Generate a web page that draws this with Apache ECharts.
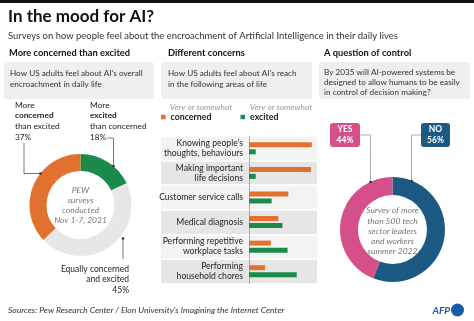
<!DOCTYPE html>
<html>
<head>
<meta charset="utf-8">
<script src="https://cdn.jsdelivr.net/npm/echarts@6/dist/echarts.min.js"></script>
<style>
html,body{margin:0;padding:0;background:#fff;}
#c{width:474px;height:321px;}
</style>
</head>
<body>
<div id="c"></div>
<script>
// ---- data ----
const areaCategories = ["Knowing people's\nthoughts, behaviours", "Making important\nlife decisions", "Customer service calls", "Medical diagnosis", "Performing repetitive\nworkplace tasks", "Performing\nhousehold chores"];
const concernedValues = [75, 74, 47, 35, 26, 19];
const excitedValues = [8, 8, 27, 40, 46, 57];
const overallNames = ["More excited than concerned", "Equally concerned and excited", "More concerned than excited"];
const overallValues = [18, 45, 37];
const controlNames = ["NO", "YES"];
const controlValues = [56, 44];

const FONT = 'Lato, "Noto Sans", sans-serif';
const C_OR = '#e2702f', C_GR = '#1b8a4a', C_GREY = '#e7e7e7', C_PINK = '#d5508a', C_NAVY = '#1c5a84';

function t(x, y, text, o) {
  o = o || {};
  return { type: 'text', z: 10, style: {
    x: x, y: y, text: text, fill: o.fill || '#222',
    fontSize: o.size || 9, fontWeight: o.weight || 'normal', fontStyle: o.style || 'normal',
    fontFamily: FONT, align: o.align || 'left', verticalAlign: 'middle', lineHeight: o.lh || 10
  }};
}
function rect(x, y, w, h, fill, r) {
  return { type: 'rect', z: 1, shape: { x: x, y: y, width: w, height: h, r: r || 0 }, style: { fill: fill } };
}
function line(points, color) {
  return { type: 'polyline', z: 5, shape: { points: points }, style: { stroke: color || '#555', lineWidth: 0.8, fill: null } };
}
function dot(x, y) {
  return { type: 'circle', z: 6, shape: { cx: x, cy: y, r: 1.3 }, style: { fill: '#333' } };
}

const BOX = 8.2;
const graphics = [
  rect(0, 0, 474, 3, '#111'),
  t(8, 17, 'In the mood for AI?', { size: 17, weight: 'bold', fill: '#111' }),
  t(8, 35.5, 'Surveys on how people feel about the encroachment of Artificial Intelligence in their daily lives', { size: 9.45, fill: '#333' }),
  t(9, 52.5, 'More concerned than excited', { size: 9.3, weight: 'bold', fill: '#111' }),
  t(168, 52.5, 'Different concerns', { size: 9.3, weight: 'bold', fill: '#111' }),
  t(324, 52.5, 'A question of control', { size: 9.3, weight: 'bold', fill: '#111' }),
  rect(4, 62, 150, 37, '#efefef', 3),
  rect(161, 62, 151, 37, '#efefef', 3),
  rect(319, 62, 151, 37, '#efefef', 3),
  t(10, 73.5, "How US adults feel about AI's overall", { size: BOX, fill: '#333' }),
  t(10, 84, 'encroachment in daily life', { size: BOX, fill: '#333' }),
  t(168, 73.5, "How US adults feel about AI's reach", { size: BOX, fill: '#333' }),
  t(168, 84, 'in the following areas of life', { size: BOX, fill: '#333' }),
  t(324, 72, 'By 2035 will AI-powered systems be', { size: BOX, fill: '#333' }),
  t(324, 82.3, 'designed to allow humans to be easily', { size: BOX, fill: '#333' }),
  t(324, 92.5, 'in control of decision making?', { size: BOX, fill: '#333' }),
  // left donut labels
  t(15, 105.5, 'More', { size: 8.3 }),
  t(15, 115.5, 'concerned', { size: 8.3, weight: 'bold' }),
  t(15, 126, 'than excited', { size: 8.3 }),
  t(15, 137.5, overallValues[2] + '%', { size: 8.3 }),
  t(90, 105.5, 'More', { size: 8.3 }),
  t(90, 115.5, 'excited', { size: 8.3, weight: 'bold' }),
  t(90, 126, 'than concerned', { size: 8.3 }),
  t(90, 137.5, overallValues[0] + '%', { size: 8.3 }),
  t(129, 269, 'Equally concerned', { size: 8.5, align: 'right' }),
  t(129, 279.5, 'and excited', { size: 8.5, align: 'right' }),
  t(129, 290, overallValues[1] + '%', { size: 8.5, align: 'right' }),
  line([[24, 143], [24, 173.5], [40.5, 173.5]]),
  dot(40.5, 173.5),
  line([[107, 138], [113.5, 138], [113.5, 166]]),
  dot(113.5, 166),
  line([[123, 238.5], [123, 259]]),
  dot(123, 238.5),
  t(80.5, 190, 'PEW', { size: 8.5, style: 'italic', fill: '#777', align: 'center' }),
  t(80.5, 200.3, 'surveys', { size: 8.5, style: 'italic', fill: '#777', align: 'center' }),
  t(80.5, 210.6, 'conducted', { size: 8.5, style: 'italic', fill: '#777', align: 'center' }),
  t(80.5, 220.6, 'Nov 1-7, 2021', { size: 8.5, style: 'italic', fill: '#777', align: 'center' }),
  // legend captions
  t(170, 107.5, 'Very or somewhat', { size: 8.3, style: 'italic', fill: '#999' }),
  t(250, 107.5, 'Very or somewhat', { size: 8.3, style: 'italic', fill: '#999' }),
  // right donut labels
  rect(330, 123, 30, 24, C_PINK, 3),
  rect(421, 123, 29, 24, C_NAVY, 3),
  t(345, 129.5, controlNames[1], { size: 8.5, weight: 'bold', fill: '#fff', align: 'center' }),
  t(345, 140, controlValues[1] + '%', { size: 8.5, weight: 'bold', fill: '#fff', align: 'center' }),
  t(435.5, 129.5, controlNames[0], { size: 8.5, weight: 'bold', fill: '#fff', align: 'center' }),
  t(435.5, 140, controlValues[0] + '%', { size: 8.5, weight: 'bold', fill: '#fff', align: 'center' }),
  line([[360, 135], [370.5, 135], [370.5, 182]], '#999'),
  dot(370.5, 182),
  line([[421, 135], [411.5, 135], [411.5, 181]], '#999'),
  dot(411.5, 181),
  t(392.5, 210.5, 'Survey of more', { size: 8.5, style: 'italic', fill: '#777', align: 'center' }),
  t(392.5, 220.8, 'than 500 tech', { size: 8.5, style: 'italic', fill: '#777', align: 'center' }),
  t(392.5, 231, 'sector leaders', { size: 8.5, style: 'italic', fill: '#777', align: 'center' }),
  t(392.5, 241.2, 'and workers', { size: 8.5, style: 'italic', fill: '#777', align: 'center' }),
  t(392.5, 251.4, 'summer 2022', { size: 8.5, style: 'italic', fill: '#777', align: 'center' }),
  // footer
  t(8, 310, "Sources: Pew Research Center / Elon University's Imagining the Internet Center", { size: 8.5, style: 'italic', fill: '#333' }),
  t(450, 310.5, 'AFP', { size: 10, weight: 'bold', style: 'italic', fill: '#1a5ba8', align: 'right' }),
  { type: 'circle', z: 6, shape: { cx: 457.5, cy: 310, r: 6.5 }, style: { fill: '#1a5ba8' } }
];

const chart = echarts.init(document.getElementById('c'), null, { renderer: 'canvas' });
chart.setOption({
  animation: false,
  backgroundColor: '#fff',
  textStyle: { fontFamily: FONT },
  graphic: graphics,
  legend: [
    { left: 161, top: 112.5, itemWidth: 4.5, itemHeight: 4.5, itemGap: 0, icon: 'rect', data: ['concerned'], padding: 0,
      textStyle: { fontSize: 8.8, fontWeight: 'bold', color: '#222', fontFamily: FONT } },
    { left: 240.5, top: 112.5, itemWidth: 4.5, itemHeight: 4.5, itemGap: 0, icon: 'rect', data: ['excited'], padding: 0,
      textStyle: { fontSize: 8.8, fontWeight: 'bold', color: '#222', fontFamily: FONT } }
  ],
  grid: [
    { left: 161, top: 136, width: 156, height: 147.5, containLabel: false },
    { left: 249, top: 136, width: 67, height: 147.5, containLabel: false }
  ],
  xAxis: [
    { gridIndex: 0, type: 'value', min: 0, max: 1, show: false },
    { gridIndex: 1, type: 'value', min: 0, max: 80, show: false }
  ],
  yAxis: [
    { gridIndex: 0, type: 'category', data: areaCategories, inverse: true, z: 0,
      axisLine: { show: false }, axisTick: { show: false }, axisLabel: { show: false },
      splitLine: { show: true, lineStyle: { color: '#fff', width: 1.5 } },
      splitArea: { show: true, areaStyle: { color: ['#f3f3f3', '#e6e6e6'] } } },
    { gridIndex: 1, type: 'category', data: areaCategories, inverse: true, z: 3,
      axisLine: { show: true, lineStyle: { color: '#999', width: 0.8 } }, axisTick: { show: false },
      axisLabel: { margin: 6, fontSize: 8.6, lineHeight: 10, color: '#222', fontFamily: FONT } }
  ],
  series: [
    { name: 'concerned', type: 'bar', xAxisIndex: 1, yAxisIndex: 1, data: concernedValues,
      barWidth: 5, barGap: '40%', itemStyle: { color: C_OR }, z: 4 },
    { name: 'excited', type: 'bar', xAxisIndex: 1, yAxisIndex: 1, data: excitedValues,
      barWidth: 5, barGap: '40%', itemStyle: { color: C_GR }, z: 4 },
    { name: 'overall', type: 'pie', center: [80.5, 205], radius: [34, 51], startAngle: 90, clockwise: true,
      label: { show: false }, labelLine: { show: false }, silent: true,
      data: overallNames.map((n, i) => ({ name: n, value: overallValues[i], itemStyle: { color: [C_GR, C_GREY, C_OR][i] } })) },
    { name: 'control', type: 'pie', center: [392.5, 229.5], radius: [34.5, 52.5], startAngle: 90, clockwise: true,
      label: { show: false }, labelLine: { show: false }, silent: true,
      data: controlNames.map((n, i) => ({ name: n, value: controlValues[i], itemStyle: { color: [C_NAVY, C_PINK][i] } })) }
  ]
});
</script>
</body>
</html>
